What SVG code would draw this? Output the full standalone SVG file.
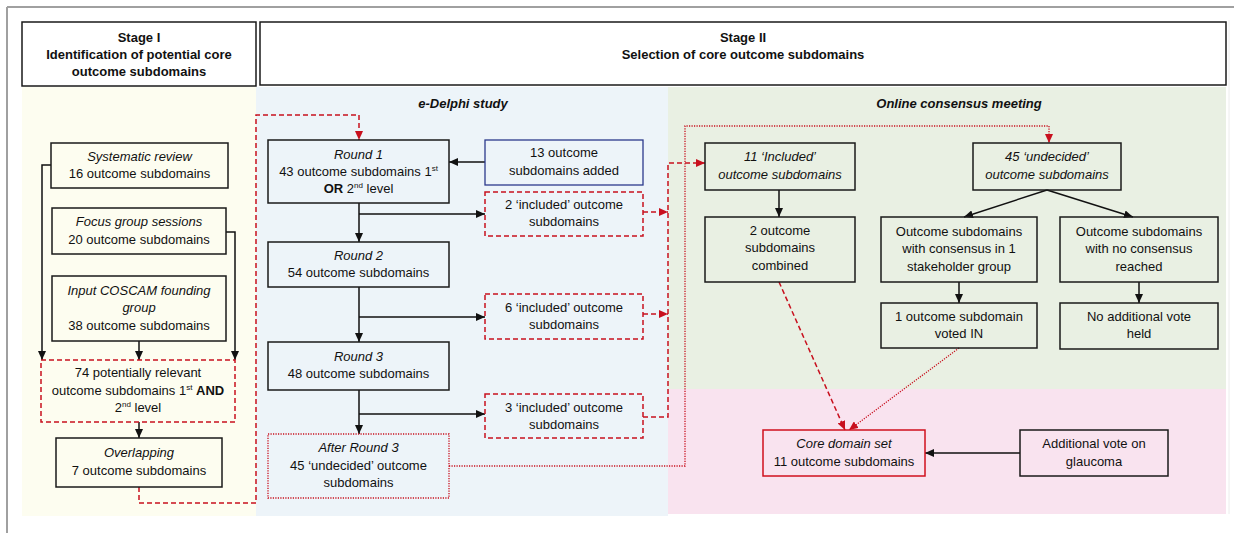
<svg xmlns="http://www.w3.org/2000/svg" width="1234" height="533" viewBox="0 0 1234 533">
<defs>
<marker id="ab" markerWidth="9" markerHeight="8" refX="9" refY="4" orient="auto" markerUnits="userSpaceOnUse"><path d="M0,0 L9,4 L0,8 z" fill="#111"/></marker>
<marker id="ar" markerWidth="9" markerHeight="8" refX="9" refY="4" orient="auto" markerUnits="userSpaceOnUse"><path d="M0,0 L9,4 L0,8 z" fill="#c8101e"/></marker>
<style>
text{font-family:"Liberation Sans",Arial,sans-serif;font-size:13px;fill:#111;text-anchor:middle}
.b{font-weight:bold}
.i{font-style:italic}
.bi{font-weight:bold;font-style:italic}
.box{fill:none;stroke:#1a1a1a;stroke-width:1.5}
.hdr{fill:#fff;stroke:#1a1a1a;stroke-width:1.5}
.rdash{fill:none;stroke:#c8101e;stroke-width:1.5;stroke-dasharray:5,3}
.rdot{fill:none;stroke:#c8101e;stroke-width:1.3;stroke-dasharray:1.2,1.3}
.blue{fill:none;stroke:#2b3a8c;stroke-width:1.3}
.red{fill:none;stroke:#d0101e;stroke-width:1.5}
.c{fill:none;stroke:#111;stroke-width:1.5}
.sup{font-size:8px}
</style>
</defs>
<rect width="1234" height="533" fill="#fff"/>
<g id="frame">
<path d="M7,7 H1234 M7,7 V533" fill="none" stroke="#a0a0a0" stroke-width="2"/>
<path d="M1229,20 V514" fill="none" stroke="#ececec" stroke-width="1"/>
</g>
<g id="panels">
<rect x="22" y="87" width="234" height="429" fill="#fdfdf0"/>
<rect x="256" y="87" width="412" height="429" fill="#edf4f9"/>
<rect x="668" y="87" width="558" height="302" fill="#e9f0e3"/>
<rect x="668" y="389" width="558" height="125" fill="#f9e3ef"/>
</g>
<g id="stage1">
<rect class="hdr" x="22" y="22" width="234" height="64"/>
<text class="b" x="139" y="42">Stage I</text>
<text class="b" x="139" y="59">Identification of potential core</text>
<text class="b" x="139" y="76">outcome subdomains</text>
</g>
<g id="stage2">
<rect class="hdr" x="260" y="22" width="966" height="63"/>
<text class="b" x="743" y="42">Stage II</text>
<text class="b" x="743" y="59">Selection of core outcome subdomains</text>
</g>
<g id="labels">
<text class="bi" x="463" y="108">e-Delphi study</text>
<text class="bi" x="959" y="108">Online consensus meeting</text>
</g>
<g id="connectors">
<path class="c" d="M51,165 H42 V360" marker-end="url(#ab)"/>
<path class="c" d="M226,232 H235 V360" marker-end="url(#ab)"/>
<path class="c" d="M139,341 V360" marker-end="url(#ab)"/>
<path class="c" d="M139,422 V438" marker-end="url(#ab)"/>
<path class="rdash" d="M139,487 V503 H256 V115 H359 V140" marker-end="url(#ar)"/>
<path class="c" d="M485,162 H449" marker-end="url(#ab)"/>
<path class="c" d="M359,203 V242" marker-end="url(#ab)"/>
<path class="c" d="M359,214 H485" marker-end="url(#ab)"/>
<path class="c" d="M359,287 V342" marker-end="url(#ab)"/>
<path class="c" d="M359,317 H485" marker-end="url(#ab)"/>
<path class="c" d="M359,390 V434" marker-end="url(#ab)"/>
<path class="c" d="M359,414 H485" marker-end="url(#ab)"/>
<path class="rdash" d="M643,212 H668" marker-end="url(#ar)"/>
<path class="rdash" d="M643,314 H668" marker-end="url(#ar)"/>
<path class="rdash" d="M643,417 H668 V163 H705" marker-end="url(#ar)"/>
<path class="rdot" d="M449,466 H685 V126 H1049 V143" marker-end="url(#ar)"/>
<path class="c" d="M779,190 V217" marker-end="url(#ab)"/>
<path class="c" d="M1047,190 L964,217" marker-end="url(#ab)"/>
<path class="c" d="M1047,190 L1133,217" marker-end="url(#ab)"/>
<path class="c" d="M959,282 V303" marker-end="url(#ab)"/>
<path class="c" d="M1139,282 V303" marker-end="url(#ab)"/>
<path class="c" d="M1020,453 H925" marker-end="url(#ab)"/>
<path class="rdash" d="M779,282 L845,430" marker-end="url(#ar)"/>
<path class="rdot" d="M959,348 L849,430" marker-end="url(#ar)"/>
</g>
<g id="systematic-review">
<rect class="box" x="51" y="143" width="177" height="45"/>
<text class="i" x="139.5" y="161">Systematic review</text>
<text x="139.5" y="178">16 outcome subdomains</text>
</g>
<g id="focus-group">
<rect class="box" x="52" y="208" width="174" height="46"/>
<text class="i" x="139" y="226">Focus group sessions</text>
<text x="139" y="244">20 outcome subdomains</text>
</g>
<g id="coscam">
<rect class="box" x="52" y="276" width="174" height="65"/>
<text class="i" x="139" y="295">Input COSCAM founding</text>
<text class="i" x="139" y="312">group</text>
<text x="139" y="330">38 outcome subdomains</text>
</g>
<g id="potentially-relevant">
<rect class="rdash" x="41" y="360" width="194" height="62"/>
<text x="138" y="377">74 potentially relevant</text>
<text x="138" y="395">outcome subdomains 1<tspan class="sup" dy="-5">st</tspan><tspan dy="5"> </tspan><tspan class="b">AND</tspan></text>
<text x="138" y="412">2<tspan class="sup" dy="-5">nd</tspan><tspan dy="5"> level</tspan></text>
</g>
<g id="overlapping">
<rect class="box" x="56" y="438" width="166" height="49"/>
<text class="i" x="139" y="457">Overlapping</text>
<text x="139" y="475">7 outcome subdomains</text>
</g>
<g id="round1">
<rect class="box" x="268" y="140" width="181" height="63"/>
<text class="i" x="358.5" y="159">Round 1</text>
<text x="358.5" y="176">43 outcome subdomains 1<tspan class="sup" dy="-5">st</tspan></text>
<text x="358.5" y="193"><tspan class="b">OR</tspan> 2<tspan class="sup" dy="-5">nd</tspan><tspan dy="5"> level</tspan></text>
</g>
<g id="added13">
<rect class="blue" x="485" y="140" width="158" height="45"/>
<text x="564" y="157">13 outcome</text>
<text x="564" y="175">subdomains added</text>
</g>
<g id="included2">
<rect class="rdash" x="485" y="192" width="158" height="44"/>
<text x="564" y="209">2 ‘included’ outcome</text>
<text x="564" y="226">subdomains</text>
</g>
<g id="round2">
<rect class="box" x="268" y="242" width="181" height="45"/>
<text class="i" x="358.5" y="260">Round 2</text>
<text x="358.5" y="277">54 outcome subdomains</text>
</g>
<g id="included6">
<rect class="rdash" x="485" y="294" width="158" height="45"/>
<text x="564" y="312">6 ‘included’ outcome</text>
<text x="564" y="329">subdomains</text>
</g>
<g id="round3">
<rect class="box" x="268" y="342" width="181" height="48"/>
<text class="i" x="358.5" y="361">Round 3</text>
<text x="358.5" y="378">48 outcome subdomains</text>
</g>
<g id="included3">
<rect class="rdash" x="485" y="394" width="158" height="44"/>
<text x="564" y="412">3 ‘included’ outcome</text>
<text x="564" y="429">subdomains</text>
</g>
<g id="after-round3">
<rect class="rdot" x="268" y="434" width="181" height="64"/>
<text class="i" x="358.5" y="452">After Round 3</text>
<text x="358.5" y="470">45 ‘undecided’ outcome</text>
<text x="358.5" y="487">subdomains</text>
</g>
<g id="included11">
<rect class="box" x="705" y="143" width="150" height="47"/>
<text class="i" x="780" y="161">11 ‘Included’</text>
<text class="i" x="780" y="179">outcome subdomains</text>
</g>
<g id="undecided45">
<rect class="box" x="973" y="143" width="148" height="47"/>
<text class="i" x="1047" y="161">45 ‘undecided’</text>
<text class="i" x="1047" y="179">outcome subdomains</text>
</g>
<g id="combined">
<rect class="box" x="705" y="217" width="150" height="65"/>
<text x="780" y="235">2 outcome</text>
<text x="780" y="252">subdomains</text>
<text x="780" y="270">combined</text>
</g>
<g id="consensus1">
<rect class="box" x="881" y="217" width="156" height="65"/>
<text x="959" y="236">Outcome subdomains</text>
<text x="959" y="253">with consensus in 1</text>
<text x="959" y="271">stakeholder group</text>
</g>
<g id="noconsensus">
<rect class="box" x="1060" y="217" width="158" height="65"/>
<text x="1139" y="236">Outcome subdomains</text>
<text x="1139" y="253">with no consensus</text>
<text x="1139" y="271">reached</text>
</g>
<g id="votedin">
<rect class="box" x="881" y="303" width="156" height="45"/>
<text x="959" y="321">1 outcome subdomain</text>
<text x="959" y="338">voted IN</text>
</g>
<g id="noadditional">
<rect class="box" x="1060" y="303" width="158" height="46"/>
<text x="1139" y="321">No additional vote</text>
<text x="1139" y="338">held</text>
</g>
<g id="core">
<rect class="red" x="763" y="430" width="162" height="46"/>
<text class="i" x="844" y="448">Core domain set</text>
<text x="844" y="466">11 outcome subdomains</text>
</g>
<g id="glaucoma">
<rect class="box" x="1020" y="430" width="148" height="46"/>
<text x="1094" y="448">Additional vote on</text>
<text x="1094" y="466">glaucoma</text>
</g>
</svg>
